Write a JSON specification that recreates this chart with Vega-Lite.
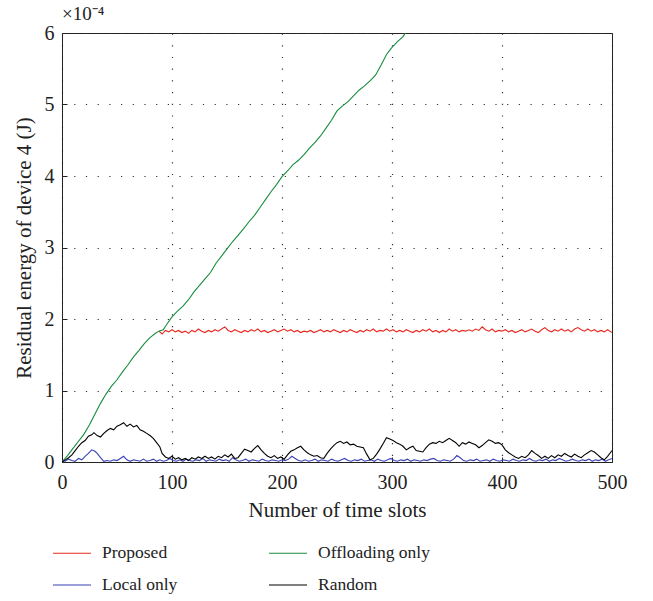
{
  "$schema": "https://vega.github.io/schema/vega-lite/v6.json",
  "width": 550,
  "height": 429,
  "autosize": {"type": "none"},
  "padding": {"left": 62, "top": 33, "right": 41, "bottom": 139},
  "background": "white",
  "title": {"text": "×10⁻⁴", "anchor": "start", "frame": "group", "fontSize": 19, "fontWeight": "normal", "font": "Liberation Serif", "color": "#222", "offset": -1},
  "config": {
    "font": "Liberation Serif",
    "view": {"stroke": "#222", "strokeWidth": 1},
    "axis": {
      "labelFont": "Liberation Serif", "titleFont": "Liberation Serif",
      "labelFontSize": 20, "titleFontSize": 21, "labelColor": "#222", "titleColor": "#222",
      "titleFontWeight": "normal", "domain": false,
      "grid": true, "gridColor": "#333", "gridDash": [1.2, 10.5], "gridWidth": 1.2, "gridOpacity": 1,
      "tickColor": "#222", "tickSize": -5, "tickWidth": 1
    },
    "legend": {"labelFont": "Liberation Serif", "labelFontSize": 17.5, "labelColor": "#222"}
  },
  "datasets": {
    "proposed": [
      {"t":88,"v":1.83},{"t":91,"v":1.79},{"t":94,"v":1.84},{"t":97,"v":1.82},{"t":100,"v":1.85},{"t":103,"v":1.82},{"t":106,"v":1.84},{"t":109,"v":1.81},{"t":112,"v":1.83},{"t":115,"v":1.80},
      {"t":118,"v":1.84},{"t":121,"v":1.82},{"t":124,"v":1.86},{"t":127,"v":1.83},{"t":130,"v":1.81},{"t":133,"v":1.84},{"t":136,"v":1.82},{"t":139,"v":1.85},{"t":142,"v":1.83},{"t":145,"v":1.86},
      {"t":148,"v":1.89},{"t":151,"v":1.84},{"t":154,"v":1.82},{"t":157,"v":1.85},{"t":160,"v":1.83},{"t":163,"v":1.81},{"t":166,"v":1.84},{"t":169,"v":1.82},{"t":172,"v":1.85},{"t":175,"v":1.83},
      {"t":178,"v":1.86},{"t":181,"v":1.82},{"t":184,"v":1.84},{"t":187,"v":1.81},{"t":190,"v":1.83},{"t":193,"v":1.85},{"t":196,"v":1.82},{"t":199,"v":1.84},{"t":202,"v":1.86},{"t":205,"v":1.83},
      {"t":208,"v":1.85},{"t":211,"v":1.82},{"t":214,"v":1.84},{"t":217,"v":1.81},{"t":220,"v":1.83},{"t":223,"v":1.82},{"t":226,"v":1.84},{"t":229,"v":1.81},{"t":232,"v":1.83},{"t":235,"v":1.85},
      {"t":238,"v":1.82},{"t":241,"v":1.84},{"t":244,"v":1.82},{"t":247,"v":1.85},{"t":250,"v":1.83},{"t":253,"v":1.81},{"t":256,"v":1.84},{"t":259,"v":1.82},{"t":262,"v":1.85},{"t":265,"v":1.83},
      {"t":268,"v":1.81},{"t":271,"v":1.84},{"t":274,"v":1.82},{"t":277,"v":1.85},{"t":280,"v":1.83},{"t":283,"v":1.86},{"t":286,"v":1.82},{"t":289,"v":1.84},{"t":292,"v":1.83},{"t":295,"v":1.86},
      {"t":298,"v":1.83},{"t":301,"v":1.85},{"t":304,"v":1.82},{"t":307,"v":1.84},{"t":310,"v":1.82},{"t":313,"v":1.85},{"t":316,"v":1.83},{"t":319,"v":1.81},{"t":322,"v":1.84},{"t":325,"v":1.82},
      {"t":328,"v":1.85},{"t":331,"v":1.83},{"t":334,"v":1.86},{"t":337,"v":1.82},{"t":340,"v":1.84},{"t":343,"v":1.81},{"t":346,"v":1.84},{"t":349,"v":1.82},{"t":352,"v":1.86},{"t":355,"v":1.83},
      {"t":358,"v":1.85},{"t":361,"v":1.82},{"t":364,"v":1.84},{"t":367,"v":1.83},{"t":370,"v":1.85},{"t":373,"v":1.83},{"t":376,"v":1.86},{"t":379,"v":1.84},{"t":382,"v":1.89},{"t":385,"v":1.85},
      {"t":388,"v":1.83},{"t":391,"v":1.86},{"t":394,"v":1.82},{"t":397,"v":1.84},{"t":400,"v":1.83},{"t":403,"v":1.85},{"t":406,"v":1.82},{"t":409,"v":1.84},{"t":412,"v":1.81},{"t":415,"v":1.83},
      {"t":418,"v":1.85},{"t":421,"v":1.82},{"t":424,"v":1.84},{"t":427,"v":1.86},{"t":430,"v":1.83},{"t":433,"v":1.81},{"t":436,"v":1.85},{"t":439,"v":1.88},{"t":442,"v":1.84},{"t":445,"v":1.82},
      {"t":448,"v":1.85},{"t":451,"v":1.83},{"t":454,"v":1.86},{"t":457,"v":1.83},{"t":460,"v":1.85},{"t":463,"v":1.82},{"t":466,"v":1.86},{"t":469,"v":1.88},{"t":472,"v":1.85},{"t":475,"v":1.83},
      {"t":478,"v":1.86},{"t":481,"v":1.83},{"t":484,"v":1.85},{"t":487,"v":1.82},{"t":490,"v":1.84},{"t":493,"v":1.82},{"t":496,"v":1.85},{"t":499,"v":1.82},{"t":500,"v":1.81}
    ],
    "local": [
      {"t":0,"v":0.02},{"t":3,"v":0.01},{"t":6,"v":0.04},{"t":9,"v":0.02},{"t":12,"v":0.01},{"t":15,"v":0.05},{"t":18,"v":0.03},{"t":21,"v":0.08},{"t":24,"v":0.12},{"t":27,"v":0.17},
      {"t":30,"v":0.15},{"t":32,"v":0.12},{"t":35,"v":0.06},{"t":38,"v":0.01},{"t":41,"v":0.02},{"t":44,"v":0.01},{"t":47,"v":0.03},{"t":50,"v":0.02},{"t":53,"v":0.05},{"t":56,"v":0.08},
      {"t":59,"v":0.03},{"t":62,"v":0.01},{"t":65,"v":0.03},{"t":68,"v":0.02},{"t":71,"v":0.01},{"t":74,"v":0.04},{"t":77,"v":0.01},{"t":80,"v":0.02},{"t":83,"v":0.04},{"t":86,"v":0.01},
      {"t":89,"v":0.03},{"t":92,"v":0.01},{"t":95,"v":0.02},{"t":98,"v":0.05},{"t":101,"v":0.02},{"t":104,"v":0.01},{"t":107,"v":0.03},{"t":110,"v":0.01},{"t":113,"v":0.04},{"t":116,"v":0.02},
      {"t":119,"v":0.01},{"t":122,"v":0.03},{"t":125,"v":0.02},{"t":128,"v":0.05},{"t":131,"v":0.01},{"t":134,"v":0.03},{"t":137,"v":0.02},{"t":140,"v":0.01},{"t":143,"v":0.04},{"t":146,"v":0.02},
      {"t":149,"v":0.03},{"t":152,"v":0.01},{"t":155,"v":0.06},{"t":158,"v":0.03},{"t":161,"v":0.01},{"t":164,"v":0.02},{"t":167,"v":0.04},{"t":170,"v":0.01},{"t":173,"v":0.03},{"t":176,"v":0.02},
      {"t":179,"v":0.01},{"t":182,"v":0.04},{"t":185,"v":0.02},{"t":188,"v":0.01},{"t":191,"v":0.03},{"t":194,"v":0.02},{"t":197,"v":0.01},{"t":200,"v":0.03},{"t":203,"v":0.02},{"t":206,"v":0.04},
      {"t":209,"v":0.08},{"t":212,"v":0.05},{"t":215,"v":0.02},{"t":218,"v":0.01},{"t":221,"v":0.03},{"t":224,"v":0.01},{"t":227,"v":0.02},{"t":230,"v":0.04},{"t":233,"v":0.01},{"t":236,"v":0.03},
      {"t":239,"v":0.02},{"t":242,"v":0.01},{"t":245,"v":0.04},{"t":248,"v":0.02},{"t":251,"v":0.01},{"t":254,"v":0.03},{"t":257,"v":0.05},{"t":260,"v":0.02},{"t":263,"v":0.01},{"t":266,"v":0.03},
      {"t":269,"v":0.02},{"t":272,"v":0.04},{"t":275,"v":0.01},{"t":278,"v":0.02},{"t":281,"v":0.03},{"t":284,"v":0.01},{"t":287,"v":0.04},{"t":290,"v":0.02},{"t":293,"v":0.01},{"t":296,"v":0.03},
      {"t":299,"v":0.05},{"t":302,"v":0.02},{"t":305,"v":0.01},{"t":308,"v":0.03},{"t":311,"v":0.02},{"t":314,"v":0.04},{"t":317,"v":0.01},{"t":320,"v":0.03},{"t":323,"v":0.02},{"t":326,"v":0.01},
      {"t":329,"v":0.03},{"t":332,"v":0.02},{"t":335,"v":0.04},{"t":338,"v":0.05},{"t":341,"v":0.02},{"t":344,"v":0.01},{"t":347,"v":0.03},{"t":350,"v":0.02},{"t":353,"v":0.01},{"t":356,"v":0.04},
      {"t":359,"v":0.09},{"t":362,"v":0.06},{"t":365,"v":0.02},{"t":368,"v":0.01},{"t":371,"v":0.03},{"t":374,"v":0.02},{"t":377,"v":0.04},{"t":380,"v":0.01},{"t":383,"v":0.02},{"t":386,"v":0.03},
      {"t":389,"v":0.01},{"t":392,"v":0.04},{"t":395,"v":0.02},{"t":398,"v":0.01},{"t":401,"v":0.03},{"t":404,"v":0.02},{"t":407,"v":0.01},{"t":410,"v":0.04},{"t":413,"v":0.02},{"t":416,"v":0.01},
      {"t":419,"v":0.03},{"t":422,"v":0.02},{"t":425,"v":0.05},{"t":428,"v":0.02},{"t":431,"v":0.01},{"t":434,"v":0.03},{"t":437,"v":0.02},{"t":440,"v":0.04},{"t":443,"v":0.01},{"t":446,"v":0.03},
      {"t":449,"v":0.02},{"t":452,"v":0.05},{"t":455,"v":0.03},{"t":458,"v":0.01},{"t":461,"v":0.02},{"t":464,"v":0.04},{"t":467,"v":0.02},{"t":470,"v":0.01},{"t":473,"v":0.03},{"t":476,"v":0.02},
      {"t":479,"v":0.04},{"t":482,"v":0.01},{"t":485,"v":0.03},{"t":488,"v":0.02},{"t":491,"v":0.04},{"t":494,"v":0.01},{"t":497,"v":0.03},{"t":500,"v":0.05}
    ],
    "offloading": [
      {"t":0,"v":0},{"t":5,"v":0.09},{"t":10,"v":0.19},{"t":15,"v":0.29},{"t":20,"v":0.39},{"t":25,"v":0.52},{"t":30,"v":0.67},{"t":35,"v":0.82},{"t":40,"v":0.95},{"t":45,"v":1.06},
      {"t":50,"v":1.15},{"t":55,"v":1.26},{"t":60,"v":1.36},{"t":65,"v":1.47},{"t":70,"v":1.56},{"t":75,"v":1.66},{"t":80,"v":1.74},{"t":85,"v":1.80},{"t":88,"v":1.83},{"t":92,"v":1.85},
      {"t":95,"v":1.92},{"t":100,"v":2.03},{"t":105,"v":2.11},{"t":110,"v":2.18},{"t":115,"v":2.27},{"t":120,"v":2.38},{"t":125,"v":2.47},{"t":130,"v":2.56},{"t":135,"v":2.65},{"t":140,"v":2.78},
      {"t":145,"v":2.88},{"t":150,"v":2.98},{"t":155,"v":3.08},{"t":160,"v":3.17},{"t":165,"v":3.26},{"t":170,"v":3.36},{"t":175,"v":3.45},{"t":180,"v":3.56},{"t":185,"v":3.67},{"t":190,"v":3.78},
      {"t":195,"v":3.88},{"t":200,"v":3.99},{"t":205,"v":4.07},{"t":210,"v":4.16},{"t":215,"v":4.22},{"t":220,"v":4.30},{"t":225,"v":4.39},{"t":230,"v":4.47},{"t":235,"v":4.56},{"t":240,"v":4.67},
      {"t":245,"v":4.78},{"t":250,"v":4.91},{"t":255,"v":4.98},{"t":260,"v":5.04},{"t":265,"v":5.12},{"t":270,"v":5.20},{"t":275,"v":5.26},{"t":280,"v":5.33},{"t":285,"v":5.41},{"t":290,"v":5.55},
      {"t":295,"v":5.70},{"t":300,"v":5.80},{"t":305,"v":5.88},{"t":310,"v":5.95},{"t":313,"v":6.02}
    ],
    "random": [
      {"t":0,"v":0.0},{"t":3,"v":0.03},{"t":6,"v":0.06},{"t":9,"v":0.1},{"t":12,"v":0.16},{"t":15,"v":0.22},{"t":18,"v":0.27},{"t":21,"v":0.3},{"t":24,"v":0.36},{"t":27,"v":0.38},
      {"t":29,"v":0.41},{"t":32,"v":0.37},{"t":35,"v":0.35},{"t":38,"v":0.4},{"t":41,"v":0.44},{"t":44,"v":0.47},{"t":47,"v":0.45},{"t":50,"v":0.5},{"t":53,"v":0.52},{"t":56,"v":0.55},
      {"t":59,"v":0.5},{"t":62,"v":0.53},{"t":65,"v":0.49},{"t":68,"v":0.51},{"t":71,"v":0.45},{"t":74,"v":0.43},{"t":77,"v":0.4},{"t":80,"v":0.37},{"t":83,"v":0.33},{"t":86,"v":0.27},
      {"t":89,"v":0.21},{"t":91,"v":0.12},{"t":94,"v":0.07},{"t":97,"v":0.05},{"t":100,"v":0.08},{"t":103,"v":0.04},{"t":106,"v":0.06},{"t":109,"v":0.03},{"t":112,"v":0.05},{"t":115,"v":0.02},
      {"t":118,"v":0.06},{"t":121,"v":0.04},{"t":124,"v":0.07},{"t":127,"v":0.05},{"t":130,"v":0.08},{"t":133,"v":0.05},{"t":136,"v":0.07},{"t":139,"v":0.04},{"t":142,"v":0.08},{"t":145,"v":0.06},
      {"t":148,"v":0.1},{"t":151,"v":0.07},{"t":154,"v":0.11},{"t":157,"v":0.05},{"t":160,"v":0.06},{"t":163,"v":0.12},{"t":166,"v":0.18},{"t":169,"v":0.16},{"t":172,"v":0.14},{"t":175,"v":0.19},
      {"t":178,"v":0.23},{"t":181,"v":0.17},{"t":184,"v":0.12},{"t":187,"v":0.08},{"t":190,"v":0.06},{"t":193,"v":0.09},{"t":196,"v":0.05},{"t":199,"v":0.07},{"t":202,"v":0.04},{"t":205,"v":0.1},
      {"t":208,"v":0.15},{"t":211,"v":0.17},{"t":214,"v":0.2},{"t":217,"v":0.22},{"t":220,"v":0.17},{"t":223,"v":0.13},{"t":226,"v":0.1},{"t":229,"v":0.08},{"t":232,"v":0.09},{"t":235,"v":0.06},
      {"t":238,"v":0.05},{"t":241,"v":0.12},{"t":244,"v":0.18},{"t":247,"v":0.23},{"t":250,"v":0.27},{"t":253,"v":0.29},{"t":256,"v":0.26},{"t":259,"v":0.28},{"t":262,"v":0.24},{"t":265,"v":0.25},
      {"t":268,"v":0.22},{"t":271,"v":0.21},{"t":274,"v":0.2},{"t":277,"v":0.11},{"t":280,"v":0.03},{"t":283,"v":0.05},{"t":286,"v":0.11},{"t":289,"v":0.18},{"t":292,"v":0.26},{"t":295,"v":0.34},
      {"t":298,"v":0.32},{"t":301,"v":0.3},{"t":304,"v":0.27},{"t":307,"v":0.25},{"t":310,"v":0.22},{"t":313,"v":0.17},{"t":316,"v":0.2},{"t":319,"v":0.22},{"t":322,"v":0.16},{"t":325,"v":0.15},
      {"t":328,"v":0.14},{"t":331,"v":0.2},{"t":334,"v":0.25},{"t":337,"v":0.27},{"t":340,"v":0.26},{"t":343,"v":0.29},{"t":346,"v":0.27},{"t":349,"v":0.3},{"t":352,"v":0.33},{"t":355,"v":0.3},
      {"t":358,"v":0.27},{"t":361,"v":0.22},{"t":364,"v":0.27},{"t":367,"v":0.25},{"t":370,"v":0.28},{"t":373,"v":0.26},{"t":376,"v":0.24},{"t":379,"v":0.2},{"t":382,"v":0.23},{"t":385,"v":0.27},
      {"t":388,"v":0.31},{"t":391,"v":0.29},{"t":394,"v":0.26},{"t":397,"v":0.27},{"t":400,"v":0.24},{"t":403,"v":0.17},{"t":406,"v":0.13},{"t":409,"v":0.1},{"t":412,"v":0.07},{"t":415,"v":0.05},
      {"t":418,"v":0.08},{"t":421,"v":0.06},{"t":424,"v":0.1},{"t":427,"v":0.16},{"t":430,"v":0.12},{"t":433,"v":0.09},{"t":436,"v":0.05},{"t":439,"v":0.08},{"t":442,"v":0.05},{"t":445,"v":0.09},
      {"t":448,"v":0.06},{"t":451,"v":0.1},{"t":454,"v":0.08},{"t":457,"v":0.12},{"t":460,"v":0.09},{"t":463,"v":0.07},{"t":466,"v":0.11},{"t":469,"v":0.08},{"t":472,"v":0.06},{"t":475,"v":0.1},
      {"t":478,"v":0.13},{"t":481,"v":0.16},{"t":484,"v":0.14},{"t":487,"v":0.1},{"t":490,"v":0.06},{"t":493,"v":0.03},{"t":496,"v":0.08},{"t":499,"v":0.14},{"t":500,"v":0.16}
    ]
  },
  "encoding": {
    "x": {"field": "t", "type": "quantitative", "scale": {"domain": [0, 500], "nice": false},
      "axis": {"title": "Number of time slots", "values": [0, 100, 200, 300, 400, 500], "labelPadding": 15, "titlePadding": 7, "labelFlush": false}},
    "y": {"field": "v", "type": "quantitative", "scale": {"domain": [0, 6], "nice": false},
      "axis": {"title": "Residual energy of device 4 (J)", "values": [0, 1, 2, 3, 4, 5, 6], "labelPadding": 13, "titlePadding": 10, "labelFlush": false}}
  },
  "layer": [
    {"data": {"name": "proposed"}, "mark": {"type": "line", "strokeWidth": 1.1, "clip": true},
      "encoding": {"color": {"datum": "Proposed", "type": "nominal",
        "scale": {"domain": ["Proposed", "Local only", "Offloading only", "Random"], "range": ["#e8281e", "#3a43b5", "#178c3e", "#000000"]},
        "legend": {"title": null, "orient": "none", "legendX": -10, "legendY": 500, "columns": 2, "symbolType": "stroke", "symbolSize": 1444, "symbolStrokeWidth": 1.2, "labelOffset": 10, "columnPadding": 88, "rowPadding": 3, "labelLimit": 300}}}},
    {"data": {"name": "offloading"}, "mark": {"type": "line", "strokeWidth": 1.1, "clip": true},
      "encoding": {"color": {"datum": "Offloading only", "type": "nominal"}}},
    {"data": {"name": "local"}, "mark": {"type": "line", "strokeWidth": 1.1, "clip": true},
      "encoding": {"color": {"datum": "Local only", "type": "nominal"}}},
    {"data": {"name": "random"}, "mark": {"type": "line", "strokeWidth": 1.1, "clip": true},
      "encoding": {"color": {"datum": "Random", "type": "nominal"}}}
  ]
}
